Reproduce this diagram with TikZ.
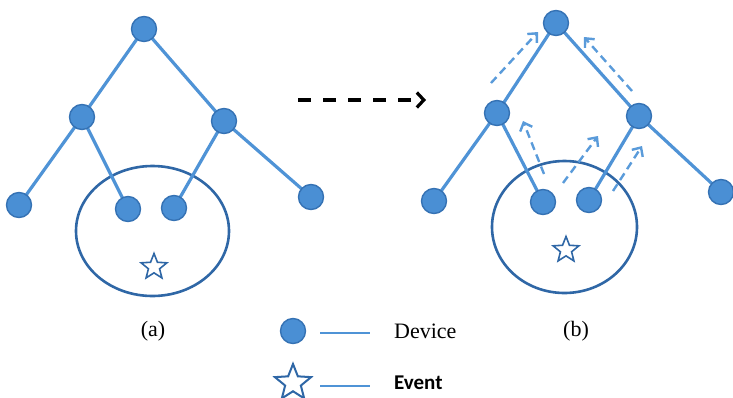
\documentclass[tikz,border=0pt]{standalone}
\usepackage{fontspec}
\setmainfont{Liberation Serif}
\newfontfamily\legendsans{Carlito}
\usetikzlibrary{shapes.geometric,arrows.meta}
\definecolor{devfill}{HTML}{4A8FD4}
\definecolor{devline}{HTML}{3572B4}
\definecolor{edgeblue}{HTML}{4F93D6}
\definecolor{zoneblue}{HTML}{2F67A6}
\definecolor{flowblue}{HTML}{5A9BDA}
\tikzset{
  device/.style={circle, fill=devfill, draw=devline, line width=1.4pt, minimum size=25pt, inner sep=0pt},
  link/.style={draw=edgeblue, line width=3.2pt},
  zone/.style={draw=zoneblue, line width=2.6pt},
  eventstar/.style={star, star points=5, star point ratio=2.3, draw=zoneblue, line width=1.6pt, fill=white, inner sep=0pt},
  flow/.style={draw=flowblue, line width=2.4pt, dash pattern=on 8pt off 5pt, -{Straight Barb[length=7pt,width=13pt,line width=2.4pt]}},
  bigflow/.style={draw=black, line width=3.2pt, dash pattern=on 13pt off 12pt, -{Straight Barb[length=7pt,width=15pt,line width=3.2pt]}},
  caption/.style={font=\fontsize{22}{26}\selectfont}
}
\begin{document}
\begin{tikzpicture}[x=1pt,y=-1pt]
\useasboundingbox (0,0) rectangle (733,397);

% ---- tree (a) ----
\draw[zone] (152.5,231) ellipse [x radius=76.5, y radius=65];
\node[eventstar, minimum size=27pt] (ea) at (154,267) {};
\coordinate (ar) at (144,29);
\coordinate (al) at (82,117);
\coordinate (am) at (224,121);
\coordinate (a1) at (19,205);
\coordinate (a2) at (128,209);
\coordinate (a3) at (174,208);
\coordinate (a4) at (311,197);
\draw[link] (ar) -- (al) (ar) -- (am) (al) -- (a1) (al) -- (a2) (am) -- (a3) (am) -- (a4);
\foreach \n in {ar,al,am,a1,a2,a3,a4} \node[device] (d\n) at (\n) {};

% ---- tree (b) ----
\draw[zone] (564.5,227) ellipse [x radius=72.5, y radius=66];
\node[eventstar, minimum size=27pt] (eb) at (566,250) {};
\coordinate (br) at (556,23);
\coordinate (bl) at (497,113);
\coordinate (bm) at (639,116);
\coordinate (b1) at (434,201);
\coordinate (b2) at (543,202);
\coordinate (b3) at (589,200);
\coordinate (b4) at (721,192);
\draw[link] (br) -- (bl) (br) -- (bm) (bl) -- (b1) (bl) -- (b2) (bm) -- (b3) (bm) -- (b4);
\foreach \n in {br,bl,bm,b1,b2,b3,b4} \node[device] (d\n) at (\n) {};

% ---- reports travelling up in (b) ----
\coordinate (f1s) at (491,83);  \coordinate (f1e) at (538,32);
\coordinate (f2s) at (632,91);  \coordinate (f2e) at (584,37);
\coordinate (f3s) at (544,174); \coordinate (f3e) at (523,121);
\coordinate (f4s) at (563,183); \coordinate (f4e) at (598,136);
\coordinate (f5s) at (613,191); \coordinate (f5e) at (642,146);
\foreach \k in {1,...,5} \draw[flow] (f\k s) -- (f\k e);

% ---- transition arrow ----
\coordinate (ts) at (298,100);
\coordinate (te) at (426,100);
\draw[bigflow] (ts) -- (te);

% ---- captions ----
\node[caption] (capa) at (153,331) {(a)};
\node[caption] (capb) at (576,331) {(b)};

% ---- legend ----
\node[device] (ldev) at (293,331) {};
\coordinate (ld1) at (320,333);
\coordinate (ld2) at (370,333);
\draw[link, line width=2.8pt] (ld1) -- (ld2);
\node[caption, anchor=west, inner sep=0pt] (ldtext) at (394,331) {Device};
\node[eventstar, minimum size=38pt, line width=2pt] (lev) at (293,383) {};
\coordinate (le1) at (320,386);
\coordinate (le2) at (370,386);
\draw[link, line width=2.8pt] (le1) -- (le2);
\node[anchor=west, inner sep=0pt, font=\legendsans\bfseries\fontsize{21}{25}\selectfont] (letext) at (394,383) {Event};
\end{tikzpicture}
\end{document}
